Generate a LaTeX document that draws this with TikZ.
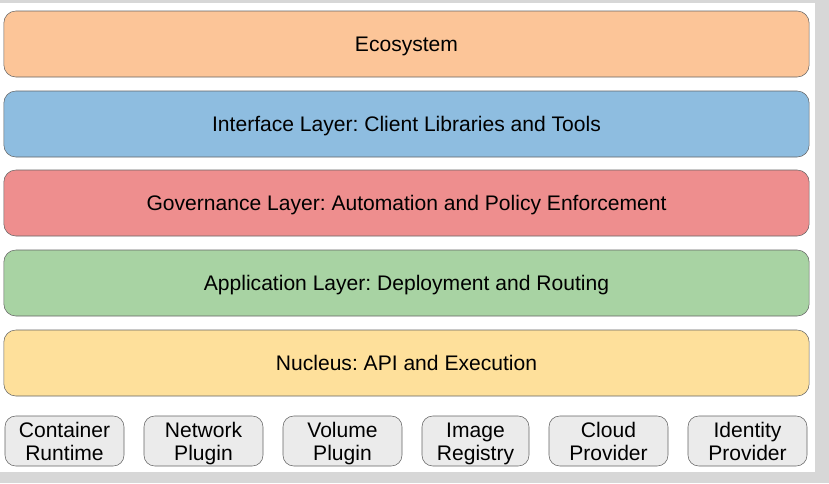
\documentclass[tikz,border=0pt]{standalone}
\usepackage{fontspec}
\setmainfont{Liberation Sans}
\usepackage{xcolor}
\usepackage{tikz}
\usetikzlibrary{positioning,calc}
\definecolor{ecopeach}{RGB}{252, 197, 152}
\definecolor{ifaceblue}{RGB}{142, 189, 224}
\definecolor{govred}{RGB}{238, 142, 142}
\definecolor{appgreen}{RGB}{168, 211, 163}
\definecolor{nucyellow}{RGB}{254, 224, 155}
\definecolor{plugingrey}{RGB}{235, 235, 235}
\definecolor{edgegrey}{RGB}{100, 100, 100}
\definecolor{shadowgrey}{RGB}{215, 215, 215}
\frenchspacing
\newcommand{\twoline}[2]{\rule{0pt}{12pt}\smash{#1}\\\smash{#2}}

\tikzset{
    layer/.style={draw=edgegrey,rounded corners=9pt,minimum width=604pt,minimum height=49.5pt,font=\fontsize{15.8}{17}\selectfont,inner sep=0pt,text depth=0pt},
    plugin/.style={draw=edgegrey,fill=plugingrey,rounded corners=8pt,minimum width=89.25pt,minimum height=37.5pt,align=center,font=\fontsize{15.8}{16.8}\selectfont,inner sep=0pt}
}

\begin{document}
\begin{tikzpicture}[x=0.75pt,y=-0.75pt]
    \useasboundingbox (0,0) rectangle (829,483);
    \fill[shadowgrey] (0,0) rectangle (829,483);
    \fill[white] (0,3) rectangle (815,472);

    \node[layer,fill=ecopeach] (eco) at (406.5,44) {Ecosystem};
    \node[layer,fill=ifaceblue] (iface) at (406.5,124) {Interface Layer: Client Libraries and Tools};
    \node[layer,fill=govred] (gov) at (406.5,203) {Governance Layer: Automation and Policy Enforcement};
    \node[layer,fill=appgreen] (app) at (406.5,283) {Application Layer: Deployment and Routing};
    \node[layer,fill=nucyellow] (nuc) at (406.5,363) {Nucleus: API and Execution};

    \node[plugin] (runtime) at (64.5,441) {\twoline{Container}{Runtime}};
    \node[plugin] (network) at (203.5,441) {\twoline{Network}{Plugin}};
    \node[plugin] (volume) at (342.5,441) {\twoline{Volume}{Plugin}};
    \node[plugin,minimum width=80.25pt] (registry) at (475.5,441) {\twoline{Image}{Registry}};
    \node[plugin] (cloud) at (608.5,441) {\twoline{Cloud}{Provider}};
    \node[plugin] (identity) at (747.5,441) {\twoline{Identity}{Provider}};
\end{tikzpicture}
\end{document}
